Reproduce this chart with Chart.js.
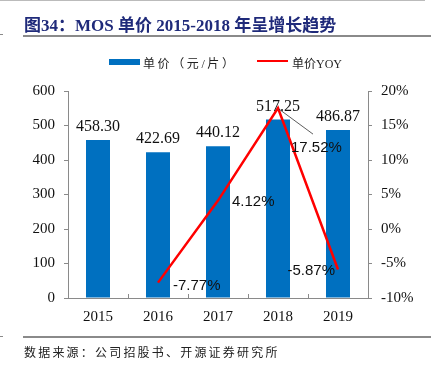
<!DOCTYPE html>
<html>
<head>
<meta charset="utf-8">
<script src="https://cdn.jsdelivr.net/npm/chart.js@4"></script>
<style>
  body { margin: 0; background: #fff; }
  #wrap { position: relative; width: 431px; height: 365px; overflow: hidden; }
  #c { position: absolute; left: 0; top: 0; }
  .rule { position: absolute; background: #8a8a8a; }
  #title { position: absolute; left: 24px; top: 11px; font: bold 17px "Liberation Serif", "Noto Sans CJK SC"; color: #1f2a7a; white-space: nowrap; }
  #foot { position: absolute; left: 24px; top: 343px; font: 12px "Noto Sans CJK SC"; letter-spacing: 2.2px; color: #222; white-space: nowrap; }
  .lg { position: absolute; font: 12px "Liberation Serif", "Noto Sans CJK SC"; color: #222; white-space: nowrap; top: 54px; }
</style>
</head>
<body>
<div id="wrap">
  <canvas id="c" width="431" height="365"></canvas>
  <div class="rule" style="left:0;top:0;width:425px;height:1px;background:#bbb"></div>
  <div id="title">图34：MOS 单价 2015-2018 年呈增长趋势</div>
  <div class="rule" style="left:0;top:34px;width:3px;height:1px"></div>
  <div class="rule" style="left:23px;top:35px;width:408px;height:2px"></div>
  <div style="position:absolute;left:109px;top:59px;width:31px;height:6px;background:#0070c0"></div>
  <div class="lg" style="left:143px;letter-spacing:2.6px">单价（元/片）</div>
  <div style="position:absolute;left:257px;top:60px;width:31px;height:2px;background:#ff0000"></div>
  <div class="lg" style="left:292px">单价YOY</div>
  <div class="rule" style="left:0;top:336px;width:3px;height:1px"></div>
  <div class="rule" style="left:23px;top:336px;width:408px;height:2px"></div>
  <div id="foot">数据来源：公司招股书、开源证券研究所</div>
</div>
<script>
const years = ["2015", "2016", "2017", "2018", "2019"];
const prices = [458.30, 422.69, 440.12, 517.25, 486.87];
const yoy = [null, -7.77, 4.12, 17.52, -5.87];
const priceLabels = ["458.30", "422.69", "440.12", "517.25", "486.87"];
const yoyLabels = [null, "-7.77%", "4.12%", "17.52%", "-5.87%"];

const axisGray = '#8a8a8a';

const labelPlugin = {
  id: 'labels',
  afterDatasetsDraw(chart) {
    const ctx = chart.ctx;
    const x = chart.scales.x, y = chart.scales.y, y1 = chart.scales.y1;
    ctx.save();
    // inward category ticks on x axis
    ctx.strokeStyle = axisGray;
    ctx.lineWidth = 1;
    for (let i = 0; i < years.length - 1; i++) {
      const bx = Math.round((x.getPixelForValue(i) + x.getPixelForValue(i + 1)) / 2) + 0.5;
      ctx.beginPath();
      ctx.moveTo(bx, chart.chartArea.bottom);
      ctx.lineTo(bx, chart.chartArea.bottom - 4);
      ctx.stroke();
    }
    // bar value labels
    ctx.fillStyle = '#111';
    ctx.font = '16px "Liberation Serif"';
    ctx.textAlign = 'center';
    ctx.textBaseline = 'alphabetic';
    prices.forEach((v, i) => {
      ctx.fillText(priceLabels[i], x.getPixelForValue(i), y.getPixelForValue(v) - 9);
    });
    // yoy labels
    ctx.font = '15px "Liberation Sans"';
    ctx.textBaseline = 'middle';
    yoy.forEach((v, i) => {
      if (v === null) return;
      const px = x.getPixelForValue(i), py = y1.getPixelForValue(v);
      if (i === 1) { ctx.textAlign = 'left'; ctx.fillText(yoyLabels[i], px + 15, py + 3); }
      if (i === 2) { ctx.textAlign = 'left'; ctx.fillText(yoyLabels[i], px + 14, py + 1); }
      if (i === 3) {
        ctx.strokeStyle = '#333';
        ctx.lineWidth = 0.8;
        ctx.beginPath();
        ctx.moveTo(px + 1, py + 1);
        ctx.lineTo(px + 35, py + 26);
        ctx.stroke();
        ctx.textAlign = 'left';
        ctx.fillText(yoyLabels[i], px + 13, py + 40);
      }
      if (i === 4) { ctx.textAlign = 'right'; ctx.fillText(yoyLabels[i], px - 3, py + 1); }
    });
    ctx.restore();
  }
};

new Chart(document.getElementById("c"), {
  type: 'bar',
  data: {
    labels: years,
    datasets: [
      {
        type: 'line',
        label: '单价YOY',
        data: yoy,
        yAxisID: 'y1',
        borderColor: '#ff0000',
        borderWidth: 2.5,
        pointRadius: 0,
        tension: 0,
        order: 0
      },
      {
        label: '单价（元/片）',
        data: prices,
        yAxisID: 'y',
        backgroundColor: '#0070c0',
        barPercentage: 0.4,
        categoryPercentage: 1,
        order: 1
      }
    ]
  },
  options: {
    responsive: false,
    animation: false,
    devicePixelRatio: 1,
    layout: {padding: {top: 91, bottom: 0, left: 0, right: 0}},
    plugins: {legend: {display: false}, tooltip: {enabled: false}},
    scales: {
      x: {
        grid: {display: true, drawOnChartArea: false, drawTicks: false},
        border: {display: true, color: axisGray, width: 1},
        ticks: {padding: 10, color: '#111', font: {family: 'Liberation Serif', size: 15}},
        afterFit(s) { s.height = 67; }
      },
      y: {
        position: 'left',
        min: 0, max: 600,
        grid: {drawOnChartArea: false, drawTicks: true, tickLength: 4, color: axisGray},
        border: {display: true, color: axisGray, width: 1},
        ticks: {stepSize: 100, padding: 9, color: '#111', font: {family: 'Liberation Serif', size: 15}},
        afterFit(s) { s.width = 68; }
      },
      y1: {
        position: 'right',
        min: -10, max: 20,
        grid: {drawOnChartArea: false, drawTicks: true, tickLength: 4, color: axisGray},
        border: {display: true, color: axisGray, width: 1},
        ticks: {stepSize: 5, padding: 9, color: '#111', font: {family: 'Liberation Serif', size: 15},
          callback: v => v + '%'},
        afterFit(s) { s.width = 63; }
      }
    }
  },
  plugins: [labelPlugin]
});
</script>
</body>
</html>
